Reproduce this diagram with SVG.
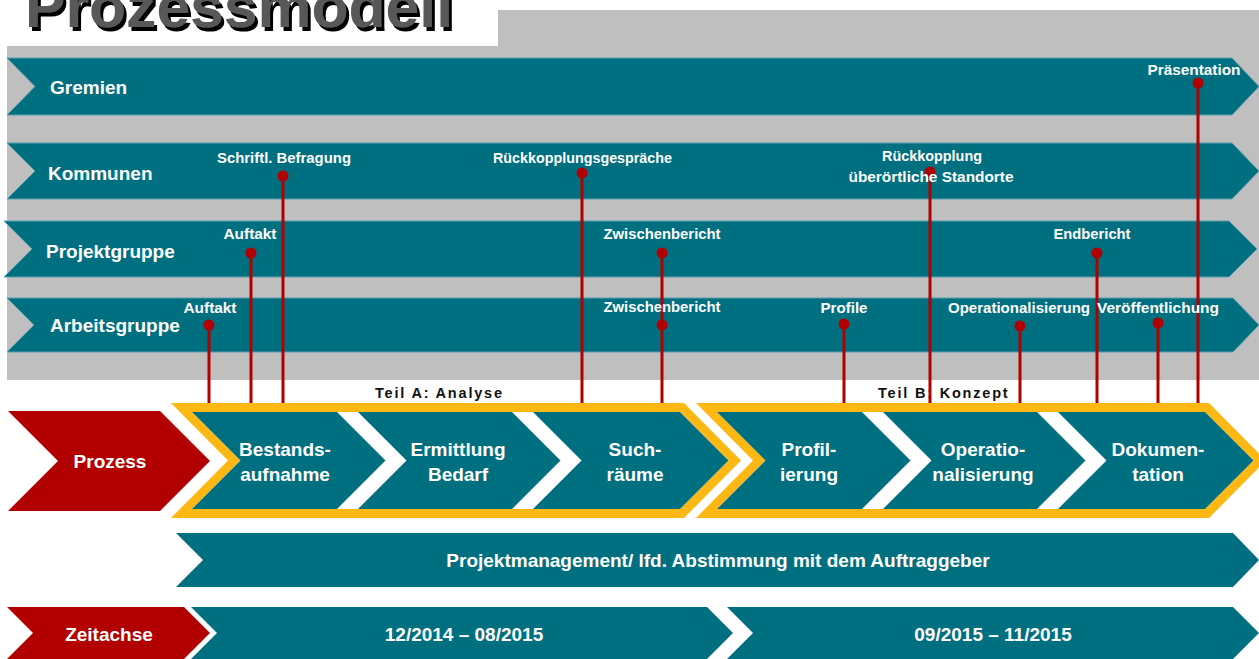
<svg xmlns="http://www.w3.org/2000/svg" width="1259" height="659" viewBox="0 0 1259 659">
  <defs>
    <style>
      .lane { fill: #006F80; stroke: #5A9EAD; stroke-width: 1; }
      .teal { fill: #006F80; }
      .red { fill: #B20000; }
      .frame { fill: #FDB813; }
      .gap { fill: #FFFFFF; }
      .t { font-family: "Liberation Sans", Arial, sans-serif; font-weight: bold; fill: #FFFFFF; }
      .lane-t { font-size: 19px; }
      .step-t { font-size: 19px; text-anchor: middle; }
      .ms-t { font-size: 15px; text-anchor: middle; }
      .part-t { font-family: "Liberation Sans", Arial, sans-serif; font-weight: bold; font-size: 14.5px; letter-spacing: 1.8px; fill: #111111; }
      .pin { stroke: #B00000; stroke-width: 3; fill: none; }
      .dot { fill: #B00000; }
    </style>
    <filter id="titleShadow" x="-5%" y="-20%" width="110%" height="140%">
      <feDropShadow dx="3" dy="4" stdDeviation="0" flood-color="#000000" flood-opacity="1"/>
    </filter>
  </defs>

  <!-- background -->
  <rect x="0" y="0" width="1259" height="659" fill="#FFFFFF"/>
  <rect x="7" y="10" width="1252" height="370" fill="#BFBFBF"/>
  <rect x="0" y="0" width="498" height="46" fill="#FFFFFF"/>

  <!-- title -->
  <g id="title">
    <text x="25" y="27" font-family="'Liberation Sans', Arial, sans-serif" font-weight="bold" font-size="60" fill="#595959" textLength="428" lengthAdjust="spacingAndGlyphs" filter="url(#titleShadow)">Prozessmodell</text>
  </g>

  <!-- swim lanes -->
  <g id="lane-gremien">
    <polygon class="lane" points="7,58 1232,58 1259,86.5 1232,115 7,115 35,86.5"/>
    <text class="t lane-t" x="50" y="94">Gremien</text>
  </g>
  <g id="lane-kommunen">
    <polygon class="lane" points="7,143 1232,143 1259,171 1232,199 7,199 35,171"/>
    <text class="t lane-t" x="48" y="180">Kommunen</text>
  </g>
  <g id="lane-projektgruppe">
    <polygon class="lane" points="4,221 1229,221 1257,249 1229,277 4,277 32,249"/>
    <text class="t lane-t" x="46" y="258">Projektgruppe</text>
  </g>
  <g id="lane-arbeitsgruppe">
    <polygon class="lane" points="7,298 1233,298 1259,325 1233,352 7,352 34,325"/>
    <text class="t lane-t" x="50" y="332">Arbeitsgruppe</text>
  </g>

  <!-- phase headings -->
  <g id="part-labels">
    <text class="part-t" x="375" y="398">Teil A: Analyse</text>
    <text class="part-t" x="878" y="398">Teil B: Konzept</text>
  </g>

  <!-- milestone pins -->
  <g id="connectors">
    <line class="pin" x1="209" y1="325" x2="209" y2="405"/>
    <line class="pin" x1="251" y1="253" x2="251" y2="405"/>
    <line class="pin" x1="283" y1="176" x2="283" y2="410"/>
    <line class="pin" x1="582" y1="173" x2="582" y2="405"/>
    <line class="pin" x1="662" y1="253" x2="662" y2="405"/>
    <line class="pin" x1="844" y1="324" x2="844" y2="405"/>
    <line class="pin" x1="930" y1="172" x2="930" y2="405"/>
    <line class="pin" x1="1020" y1="326" x2="1020" y2="405"/>
    <line class="pin" x1="1097" y1="253" x2="1097" y2="405"/>
    <line class="pin" x1="1158" y1="323" x2="1158" y2="405"/>
    <line class="pin" x1="1198" y1="83" x2="1198" y2="405"/>
    <circle class="dot" cx="209" cy="325" r="5.5"/>
    <circle class="dot" cx="251" cy="253" r="5.5"/>
    <circle class="dot" cx="283" cy="176" r="5.5"/>
    <circle class="dot" cx="582" cy="173" r="5.5"/>
    <circle class="dot" cx="662" cy="253" r="5.5"/>
    <circle class="dot" cx="662" cy="325" r="5.5"/>
    <circle class="dot" cx="844" cy="324" r="5.5"/>
    <circle class="dot" cx="930" cy="172" r="5.5"/>
    <circle class="dot" cx="1020" cy="326" r="5.5"/>
    <circle class="dot" cx="1097" cy="253" r="5.5"/>
    <circle class="dot" cx="1158" cy="323" r="5.5"/>
    <circle class="dot" cx="1198" cy="83" r="5.5"/>
  </g>

  <!-- milestone labels -->
  <g id="milestones">
    <text class="t ms-t" x="1194" y="75" textLength="93" lengthAdjust="spacingAndGlyphs">Präsentation</text>
    <text class="t ms-t" x="284" y="163" textLength="134" lengthAdjust="spacingAndGlyphs">Schriftl. Befragung</text>
    <text class="t ms-t" x="582.5" y="163" textLength="179" lengthAdjust="spacingAndGlyphs">Rückkopplungsgespräche</text>
    <text class="t ms-t" x="932" y="161" textLength="100" lengthAdjust="spacingAndGlyphs">Rückkopplung</text>
    <text class="t ms-t" x="931" y="182" textLength="165" lengthAdjust="spacingAndGlyphs">überörtliche Standorte</text>
    <text class="t ms-t" x="250" y="239" textLength="53" lengthAdjust="spacingAndGlyphs">Auftakt</text>
    <text class="t ms-t" x="662" y="239" textLength="117" lengthAdjust="spacingAndGlyphs">Zwischenbericht</text>
    <text class="t ms-t" x="1092" y="239" textLength="77" lengthAdjust="spacingAndGlyphs">Endbericht</text>
    <text class="t ms-t" x="210" y="313" textLength="53" lengthAdjust="spacingAndGlyphs">Auftakt</text>
    <text class="t ms-t" x="662" y="312" textLength="117" lengthAdjust="spacingAndGlyphs">Zwischenbericht</text>
    <text class="t ms-t" x="844" y="313" textLength="47" lengthAdjust="spacingAndGlyphs">Profile</text>
    <text class="t ms-t" x="1019" y="313" textLength="142" lengthAdjust="spacingAndGlyphs">Operationalisierung</text>
    <text class="t ms-t" x="1158" y="313" textLength="122" lengthAdjust="spacingAndGlyphs">Veröffentlichung</text>
  </g>

  <!-- process row -->
  <g id="prozess">
    <polygon class="red" points="8,411 160,411 210,461 160,511 8,511 58,461"/>
    <text class="t step-t" x="110" y="468">Prozess</text>
  </g>

  <g id="teil-a">
    <polygon class="frame" points="171,403 684,403 741,460.5 684,518 171,518 228,460.5"/>
    <polygon class="gap" points="192,412 680,412 728.5,460.5 680,509 192,509 240.5,460.5"/>
  </g>
  <g id="step-bestandsaufnahme">
    <polygon class="teal" points="192,412 337,412 385.5,460.5 337,509 192,509 240.5,460.5"/>
    <text class="t step-t" x="285" y="456">Bestands-</text>
    <text class="t step-t" x="285" y="481">aufnahme</text>
  </g>
  <g id="step-ermittlung">
    <polygon class="teal" points="358,412 512,412 560.5,460.5 512,509 358,509 406.5,460.5"/>
    <text class="t step-t" x="458" y="456">Ermittlung</text>
    <text class="t step-t" x="458" y="481">Bedarf</text>
  </g>
  <g id="step-suchraeume">
    <polygon class="teal" points="533,412 680,412 728.5,460.5 680,509 533,509 581.5,460.5"/>
    <text class="t step-t" x="635" y="456">Such-</text>
    <text class="t step-t" x="635" y="481">räume</text>
  </g>

  <g id="teil-b">
    <polygon class="frame" points="696,403 1209,403 1266,460.5 1209,518 696,518 753,460.5"/>
    <polygon class="gap" points="717,412 1205,412 1253.5,460.5 1205,509 717,509 765.5,460.5"/>
  </g>
  <g id="step-profilierung">
    <polygon class="teal" points="717,412 862,412 910.5,460.5 862,509 717,509 765.5,460.5"/>
    <text class="t step-t" x="809" y="456">Profil-</text>
    <text class="t step-t" x="809" y="481">ierung</text>
  </g>
  <g id="step-operationalisierung">
    <polygon class="teal" points="883,412 1037,412 1085.5,460.5 1037,509 883,509 931.5,460.5"/>
    <text class="t step-t" x="983" y="456">Operatio-</text>
    <text class="t step-t" x="983" y="481">nalisierung</text>
  </g>
  <g id="step-dokumentation">
    <polygon class="teal" points="1058,412 1205,412 1253.5,460.5 1205,509 1058,509 1106.5,460.5"/>
    <text class="t step-t" x="1158" y="456">Dokumen-</text>
    <text class="t step-t" x="1158" y="481">tation</text>
  </g>

  <!-- project management bar -->
  <g id="projektmanagement">
    <polygon class="teal" points="176,533 1233,533 1259,560 1233,587 176,587 203,560"/>
    <text class="t step-t" x="718" y="567">Projektmanagement/ lfd. Abstimmung mit dem Auftraggeber</text>
  </g>

  <!-- timeline -->
  <g id="zeitachse">
    <polygon class="red" points="7,607 184,607 210,633 184,659 7,659 33,633"/>
    <text class="t step-t" x="109" y="641">Zeitachse</text>
  </g>
  <g id="zeit-teil-a">
    <polygon class="teal" points="191,607 707,607 733,633 707,659 191,659 217,633"/>
    <text class="t step-t" x="464" y="641" font-size="20">12/2014 – 08/2015</text>
  </g>
  <g id="zeit-teil-b">
    <polygon class="teal" points="727,607 1233,607 1259,633 1233,659 727,659 753,633"/>
    <text class="t step-t" x="993" y="641" font-size="20">09/2015 – 11/2015</text>
  </g>
</svg>
